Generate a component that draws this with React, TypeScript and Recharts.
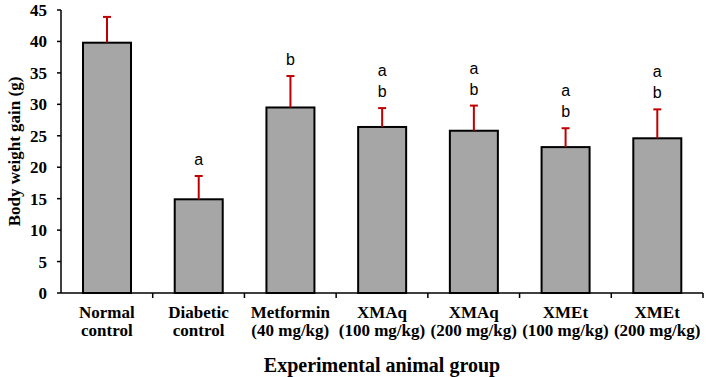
import React from 'react';
import { BarChart, Bar, XAxis, YAxis } from 'recharts';

const groupNames = ['Normal', 'Diabetic', 'Metformin', 'XMAq', 'XMAq', 'XMEt', 'XMEt'];
const groupDoses = ['control', 'control', '(40 mg/kg)', '(100 mg/kg)', '(200 mg/kg)', '(100 mg/kg)', '(200 mg/kg)'];
const weightGain = [39.8, 14.9, 29.5, 26.4, 25.8, 23.2, 24.6];
const weightSem = [4.1, 3.7, 5.0, 3.0, 4.0, 3.0, 4.6];
const sigLetters = [[], ['a'], ['b'], ['a', 'b'], ['a', 'b'], ['a', 'b'], ['a', 'b']];
const yTicks = [0, 5, 10, 15, 20, 25, 30, 35, 40, 45];

const data = groupNames.map((name, i) => ({
    id: i,
    name,
    dose: groupDoses[i],
    gain: weightGain[i],
    sem: weightSem[i],
    letters: sigLetters[i],
}));

const serif = '"Liberation Serif", "Times New Roman", serif';
const sans = '"Liberation Sans", Arial, sans-serif';

const BarWithError = (props: any) => {
    const { x, y, width, height, payload } = props;
    const pxPerUnit = height / payload.gain;
    const errTop = y - payload.sem * pxPerUnit;
    const cx = x + width / 2;
    const letters: string[] = payload.letters;
    return (
        <g>
            <rect x={x} y={y} width={width} height={height} fill="#a6a6a6" stroke="#000" strokeWidth={2} />
            <line x1={cx} y1={y} x2={cx} y2={errTop} stroke="#c00000" strokeWidth={2} />
            <line x1={cx - 4} y1={errTop} x2={cx + 4} y2={errTop} stroke="#c00000" strokeWidth={2} />
            {letters.map((l, k) => (
                <text
                    key={k}
                    x={cx}
                    y={errTop - 11 - (letters.length - 1 - k) * 21}
                    textAnchor="middle"
                    fontFamily={sans}
                    fontSize={16}
                    fill="#000"
                >
                    {l}
                </text>
            ))}
        </g>
    );
};

const GroupTick = (props: any) => {
    const { x, y, payload, index } = props;
    const item = data[payload.value];
    const half = payload.offset || 0;
    return (
        <g>
            {index > 0 && <line x1={x - half} y1={y - 8} x2={x - half} y2={y - 3} stroke="#000" strokeWidth={1.5} />}
            {index === data.length - 1 && <line x1={x + half} y1={y - 8} x2={x + half} y2={y - 3} stroke="#000" strokeWidth={1.5} />}
            <text x={x} y={y + 17} textAnchor="middle" fontFamily={serif} fontWeight="bold" fontSize={17} fill="#000">
                <tspan x={x} dy={0}>{item.name}</tspan>
                <tspan x={x} dy={18}>{item.dose}</tspan>
            </text>
        </g>
    );
};

export default function App() {
    return (
        <div style={{ position: 'absolute', left: 0, top: 0, background: '#fff' }}>
            <BarChart
                width={706}
                height={377}
                data={data}
                margin={{ top: 10, right: 3, left: 0, bottom: 0 }}
                barCategoryGap="24%"
            >
                <XAxis
                    dataKey="id"
                    type="category"
                    height={84}
                    tickLine={false}
                    axisLine={{ stroke: '#000', strokeWidth: 1.5 }}
                    tick={<GroupTick />}
                    interval={0}
                    label={{
                        value: 'Experimental animal group',
                        position: 'insideBottom',
                        offset: 5,
                        style: { fontFamily: serif, fontWeight: 'bold', fontSize: 20, fill: '#000' },
                    }}
                />
                <YAxis
                    width={61}
                    domain={[0, 45]}
                    ticks={yTicks}
                    interval={0}
                    tickSize={4}
                    tickMargin={10}
                    axisLine={{ stroke: '#000', strokeWidth: 1.5 }}
                    tickLine={{ stroke: '#000', strokeWidth: 1.5 }}
                    tick={{ fontFamily: serif, fontWeight: 'bold', fontSize: 17, fill: '#000' }}
                    label={{
                        value: 'Body weight gain (g)',
                        angle: -90,
                        position: 'insideLeft',
                        offset: 14,
                        style: { textAnchor: 'middle', fontFamily: serif, fontWeight: 'bold', fontSize: 17, fill: '#000' },
                    }}
                />
                <Bar dataKey="gain" shape={<BarWithError />} isAnimationActive={false} />
            </BarChart>
        </div>
    );
}
